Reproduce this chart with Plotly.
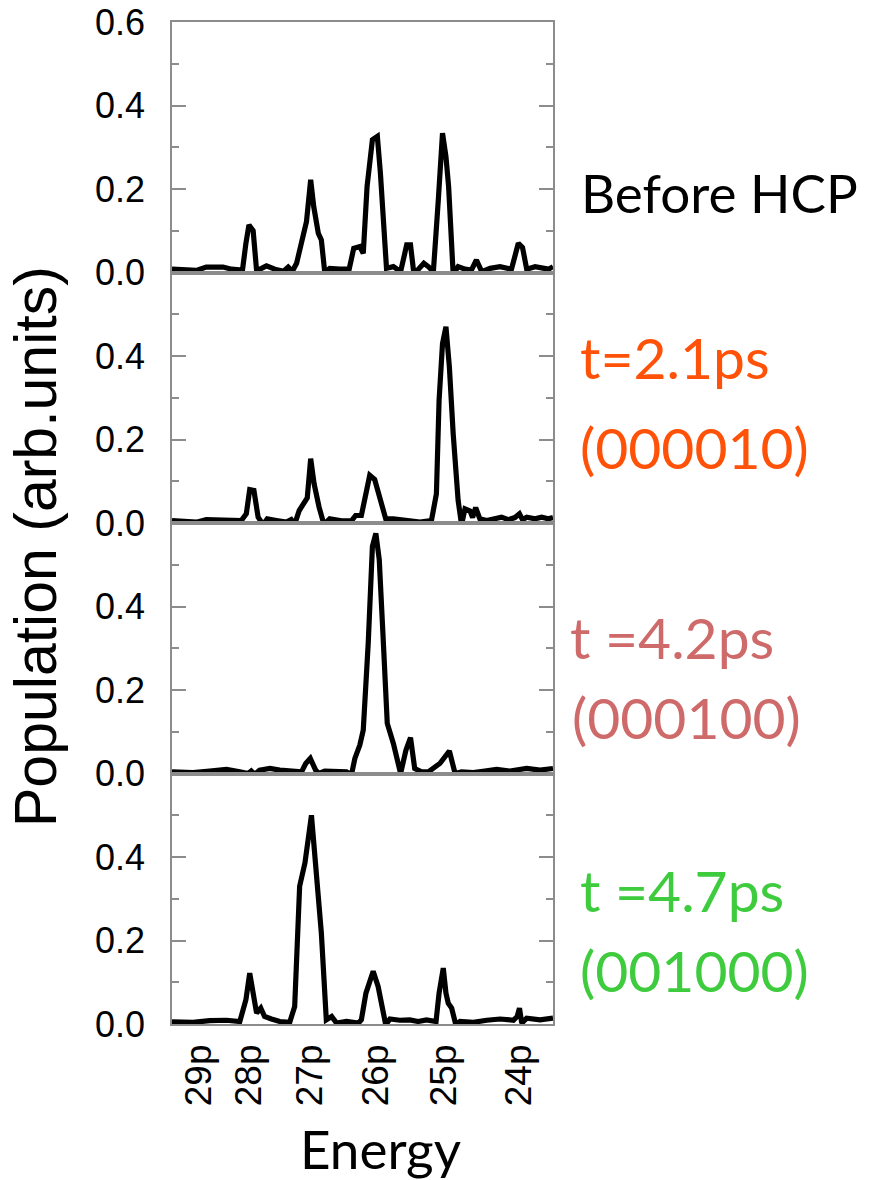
import plotly.graph_objects as go
from plotly.subplots import make_subplots

# ---------------- data ----------------
# energy axis in arbitrary units (0..100 across the axis)
tick_labels = ["29p", "28p", "27p", "26p", "25p", "24p"]
tick_pos = [7.0, 20.2, 36.3, 53.6, 71.3, 91.2]

panel_labels = ["Before HCP", "t=2.1ps\n(000010)", "t =4.2ps\n(000100)", "t =4.7ps\n(001000)"]

x_before = [0, 3.8, 6.4, 9.0, 11.2, 13.4, 15.6, 18.5, 19.4, 20.2, 21.3, 22.2, 23.5, 24.8, 27.0, 29.3,
            30.5, 31.6, 32.7, 34.0, 35.3, 36.4, 37.2, 38.4, 39.2, 40.1, 41.4, 44.0, 46.5, 47.7, 49.3,
            50.2, 51.2, 52.6, 53.9, 54.7, 56.3, 58.1, 60.0, 61.6, 62.6, 63.5, 64.9, 66.1, 67.3, 68.6,
            69.9, 71.0, 71.9, 72.6, 73.8, 75.1, 76.9, 78.6, 79.9, 81.3, 83.5, 86.1, 89.1, 90.9, 92.0,
            93.1, 95.3, 97.5, 98.8, 100]
y_before = [0.008, 0.008, 0.005, 0.013, 0.012, 0.013, 0.008, 0.006, 0.07, 0.114, 0.10, 0.005, 0.01, 0.016,
            0.008, 0.003, 0.013, 0.003, 0.022, 0.078, 0.122, 0.222, 0.158, 0.094, 0.078, 0.0, 0.01, 0.008,
            0.008, 0.058, 0.062, 0.046, 0.206, 0.318, 0.326, 0.238, 0.01, 0.014, 0.002, 0.066, 0.066,
            -0.004, 0.01, 0.022, 0.014, 0.002, 0.174, 0.334, 0.278, 0.206, -0.004, 0.014, 0.008, 0.006,
            0.03, 0.002, 0.01, 0.014, 0.008, 0.07, 0.06, 0.008, 0.014, 0.012, 0.008, 0.014]

x_21ps = [0, 3.8, 6.4, 9.0, 14.3, 18.2, 19.5, 20.4, 21.5, 22.6, 23.9, 25.0, 27.4, 30.0, 31.3, 32.2,
          33.4, 34.6, 35.5, 36.4, 37.3, 38.6, 39.9, 41.4, 44.5, 47.1, 48.2, 49.7, 51.9, 53.2, 54.6,
          56.1, 58.1, 61.6, 65.1, 68.1, 69.4, 70.1, 71.0, 71.9, 72.8, 73.8, 75.1, 76.0, 76.9, 78.2,
          78.9, 79.7, 80.8, 82.6, 84.3, 86.5, 88.3, 90.0, 91.2, 92.0, 93.1, 95.3, 97.0, 98.8, 100]
y_21ps = [0.006, 0.004, 0.002, 0.008, 0.008, 0.006, 0.022, 0.08, 0.078, 0.014, -0.004, 0.01, 0.006,
          0.002, 0.008, -0.003, 0.03, 0.05, 0.06, 0.154, 0.094, 0.038, -0.004, 0.01, 0.005, 0.005,
          0.018, 0.018, 0.114, 0.104, 0.062, 0.01, 0.01, 0.005, 0.002, 0.006, 0.07, 0.294, 0.43, 0.47,
          0.374, 0.214, 0.054, -0.004, 0.034, 0.029, 0.013, 0.037, 0.01, 0.006, 0.01, 0.014, 0.008,
          0.013, 0.022, 0.008, 0.014, 0.01, 0.014, 0.01, 0.013]

x_42ps = [0, 5.5, 9.9, 14.3, 17.8, 20.0, 20.8, 21.7, 23.0, 25.7, 28.3, 31.8, 34.0, 35.1, 36.3, 37.7,
          38.6, 40.1, 43.2, 45.8, 47.1, 48.0, 49.3, 50.2, 51.5, 52.6, 53.5, 54.4, 55.4, 56.5, 58.1,
          60.0, 61.4, 62.6, 63.7, 65.5, 67.3, 70.3, 72.8, 74.3, 76.0, 79.1, 82.1, 85.2, 88.7, 93.1,
          96.6, 100]
y_42ps = [0.004, 0.002, 0.006, 0.01, 0.004, 0.0, 0.006, -0.002, 0.008, 0.012, 0.008, 0.006, 0.004,
          0.024, 0.036, 0.008, 0.0, 0.006, 0.006, 0.004, -0.003, 0.036, 0.068, 0.104, 0.312, 0.544,
          0.575, 0.512, 0.328, 0.12, 0.072, 0.0, 0.056, 0.086, 0.012, 0.004, 0.004, 0.024, 0.054, 0.0,
          0.004, 0.002, 0.006, 0.01, 0.006, 0.012, 0.008, 0.012]

x_47ps = [0, 5.5, 9.9, 14.3, 17.8, 19.4, 20.4, 21.3, 22.2, 23.3, 24.3, 26.1, 28.3, 30.9, 32.2, 33.5,
          34.9, 36.6, 37.9, 39.2, 40.5, 41.9, 43.2, 45.8, 48.9, 49.7, 50.9, 52.8, 54.1, 55.3, 56.1,
          57.2, 59.8, 62.4, 64.6, 66.8, 69.3, 70.1, 71.2, 71.9, 72.5, 73.4, 74.5, 75.6, 79.1, 82.6,
          86.1, 89.6, 90.6, 91.2, 91.8, 93.1, 96.6, 100]
y_47ps = [0.005, 0.004, 0.008, 0.009, 0.006, 0.058, 0.122, 0.074, 0.026, 0.038, 0.018, 0.012, 0.006,
          0.004, 0.042, 0.33, 0.386, 0.5, 0.338, 0.218, 0.01, 0.018, 0.002, 0.006, 0.002, 0.01, 0.074,
          0.126, 0.09, 0.026, -0.002, 0.012, 0.009, 0.01, 0.006, 0.01, 0.006, 0.074, 0.134, 0.074,
          0.05, 0.038, -0.002, 0.006, 0.004, 0.009, 0.012, 0.009, 0.018, 0.038, 0.002, 0.014, 0.01,
          0.014]

series_x = [x_before, x_21ps, x_42ps, x_47ps]
series_y = [y_before, y_21ps, y_42ps, y_47ps]
label_colors = ["#000000", "#FF5208", "#CF6A6A", "#3ECC3E"]

# ---------------- figure ----------------
W, H = 871, 1180
L, R, T, B = 172, 318, 22, 156
fig = make_subplots(rows=4, cols=1, shared_xaxes=True, vertical_spacing=0)

for i in range(4):
    fig.add_trace(go.Scatter(x=series_x[i], y=series_y[i], mode="lines",
                             line=dict(color="black", width=5.2), showlegend=False,
                             hoverinfo="skip"), row=i + 1, col=1)

frame = "#8c8c8c"
for i in range(4):
    tv = [0, 0.2, 0.4, 0.6] if i == 0 else [0, 0.2, 0.4]
    fig.update_yaxes(row=i + 1, col=1, range=[0, 0.6], tickmode="array", tickvals=tv,
                     ticktext=[f"{v:.1f}" for v in tv], ticks="inside", ticklen=14,
                     tickwidth=1.5, tickcolor=frame, showline=True, linecolor=frame,
                     linewidth=1.5, mirror="ticks", showgrid=False, zeroline=False,
                     ticklabelstandoff=18,
                     tickfont=dict(family="Liberation Sans, Arial, sans-serif", size=36,
                                   color="black"),
                     minor=dict(tickmode="array", tickvals=[0.1, 0.3, 0.5], ticks="inside",
                                ticklen=7, tickwidth=1.5, tickcolor=frame, showgrid=False))
    fig.update_xaxes(row=i + 1, col=1, range=[0, 100], showline=True, linecolor=frame,
                     linewidth=1.5, mirror=True, showgrid=False, zeroline=False, ticks="",
                     tickmode="array", tickvals=tick_pos, ticktext=tick_labels,
                     tickangle=-90, ticklabelstandoff=4,
                     tickfont=dict(family="Liberation Sans, Arial, sans-serif", size=37,
                                   color="black"))

plot_h = H - T - B
plot_w = W - L - R


def px(xp):
    return (xp - L) / plot_w


def py(yp):
    return (H - B - yp) / plot_h


ann = []
ann.append(dict(text="Population (arb.units)", x=px(36), y=py(547), xref="paper", yref="paper",
                textangle=-90, showarrow=False, xanchor="center", yanchor="middle",
                font=dict(family="Liberation Sans, Arial, sans-serif", size=59, color="black")))
ann.append(dict(text="Energy", x=px(380), y=py(1148), xref="paper", yref="paper",
                showarrow=False, xanchor="center", yanchor="middle",
                font=dict(family="Lato, sans-serif", size=53, color="black")))

label_pos = [
    [(579, 193)],
    [(578, 357), (578, 447)],
    [(568, 637), (570, 717)],
    [(578, 890), (578, 970)],
]
label_sizes = [53, 57, 57, 57]
for i, text in enumerate(panel_labels):
    lines = text.split("\n")
    for line, (xp, yp) in zip(lines, label_pos[i]):
        ann.append(dict(text=line, x=px(xp), y=py(yp), xref="paper", yref="paper",
                        showarrow=False, xanchor="left", yanchor="middle",
                        font=dict(family="Lato, sans-serif", size=label_sizes[i],
                                  color=label_colors[i])))

fig.update_layout(width=W, height=H, margin=dict(l=L, r=R, t=T, b=B, autoexpand=False),
                  paper_bgcolor="white", plot_bgcolor="white", annotations=ann,
                  showlegend=False)

fig.write_html("out.html", config={"displayModeBar": False},
               post_script="document.body.style.margin='0px';")
